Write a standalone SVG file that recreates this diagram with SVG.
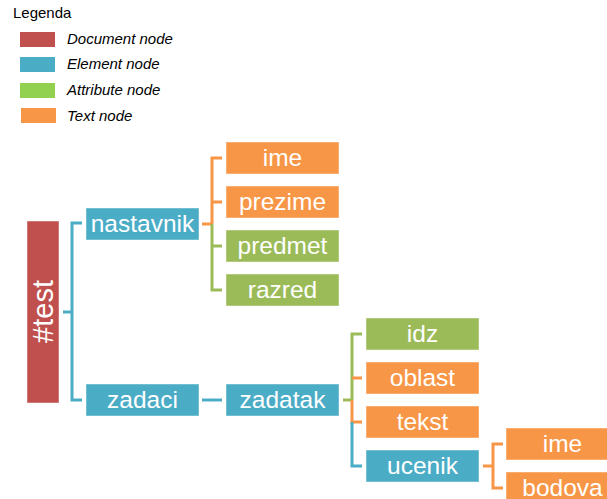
<svg xmlns="http://www.w3.org/2000/svg" width="607" height="499" viewBox="0 0 607 499">
<style>
  .doc{fill:#C0504D}
  .el{fill:#4BACC6}
  .at{fill:#9BBB59}
  .tx{fill:#F79646}
  .box{stroke:#ffffff;stroke-opacity:0.45;stroke-width:1}
  .lbl{font-family:"Liberation Sans",Arial,sans-serif;font-size:24.5px;fill:#ffffff;text-anchor:middle}
  .leg{font-family:"Liberation Sans",Arial,sans-serif;font-size:15px;font-style:italic;fill:#000000}
  .legt{font-family:"Liberation Sans",Arial,sans-serif;font-size:15px;fill:#000000}
  .c{fill:none;stroke-width:3;stroke-linecap:butt;stroke-linejoin:miter}
  .ce{stroke:#4BACC6}
  .ca{stroke:#9BBB59}
  .ct{stroke:#F79646}
</style>
<rect width="607" height="499" fill="#ffffff"/>
<g id="legend">
  <text class="legt" x="13" y="18">Legenda</text>
  <rect class="doc" x="20" y="32" width="35" height="15"/>
  <text class="leg" x="67" y="44">Document node</text>
  <rect class="el" x="20" y="57" width="35" height="15"/>
  <text class="leg" x="67" y="69">Element node</text>
  <rect fill="#92D050" x="20" y="83" width="35" height="15"/>
  <text class="leg" x="67" y="95">Attribute node</text>
  <rect class="tx" x="21" y="108" width="35" height="15"/>
  <text class="leg" x="67" y="121">Text node</text>
</g>
<g id="connectors">
  <path class="c ce" d="M63 312H72M82 223H72V400H82"/>
  <path class="c ct" d="M202 224H212M222 158H212V224M212 202H222"/>
  <path class="c ca" d="M212 224V290H222M212 246H222"/>
  <path class="c ce" d="M202 400H222"/>
  <path class="c ca" d="M343 400H352M362 334H352V400"/>
  <path class="c ct" d="M352 400V422H362M352 378H362"/>
  <path class="c ce" d="M352 422V466H362"/>
  <path class="c ct" d="M483 466H493M503 444H493V488H503"/>
</g>
<g id="n-test">
  <rect class="doc box" x="27" y="221" width="32" height="182"/>
  <text class="lbl" style="font-size:29px" transform="translate(53 311.5) rotate(-90)" x="0" y="0">#test</text>
</g>
<g id="n-nastavnik">
  <rect class="el box" x="86" y="208" width="113" height="32"/>
  <text class="lbl" x="142.5" y="232">nastavnik</text>
</g>
<g id="n-zadaci">
  <rect class="el box" x="86" y="384" width="113" height="32"/>
  <text class="lbl" x="142.5" y="408">zadaci</text>
</g>
<g id="n-zadatak">
  <rect class="el box" x="226" y="384" width="113" height="32"/>
  <text class="lbl" x="282.5" y="408">zadatak</text>
</g>
<g id="n-ime1">
  <rect class="tx box" x="226" y="142" width="113" height="32"/>
  <text class="lbl" x="282.5" y="166">ime</text>
</g>
<g id="n-prezime">
  <rect class="tx box" x="226" y="186" width="113" height="32"/>
  <text class="lbl" x="282.5" y="210">prezime</text>
</g>
<g id="n-predmet">
  <rect class="at box" x="226" y="230" width="113" height="32"/>
  <text class="lbl" x="282.5" y="254">predmet</text>
</g>
<g id="n-razred">
  <rect class="at box" x="226" y="274" width="113" height="32"/>
  <text class="lbl" x="282.5" y="298">razred</text>
</g>
<g id="n-idz">
  <rect class="at box" x="366" y="318" width="113" height="32"/>
  <text class="lbl" x="422.5" y="342">idz</text>
</g>
<g id="n-oblast">
  <rect class="tx box" x="366" y="362" width="113" height="32"/>
  <text class="lbl" x="422.5" y="386">oblast</text>
</g>
<g id="n-tekst">
  <rect class="tx box" x="366" y="406" width="113" height="32"/>
  <text class="lbl" x="422.5" y="430">tekst</text>
</g>
<g id="n-ucenik">
  <rect class="el box" x="366" y="450" width="113" height="32"/>
  <text class="lbl" x="422.5" y="474">ucenik</text>
</g>
<g id="n-ime2">
  <rect class="tx box" x="506" y="428" width="113" height="32"/>
  <text class="lbl" x="562.5" y="452">ime</text>
</g>
<g id="n-bodova">
  <rect class="tx box" x="506" y="472" width="113" height="32"/>
  <text class="lbl" x="562.5" y="496">bodova</text>
</g>
</svg>
